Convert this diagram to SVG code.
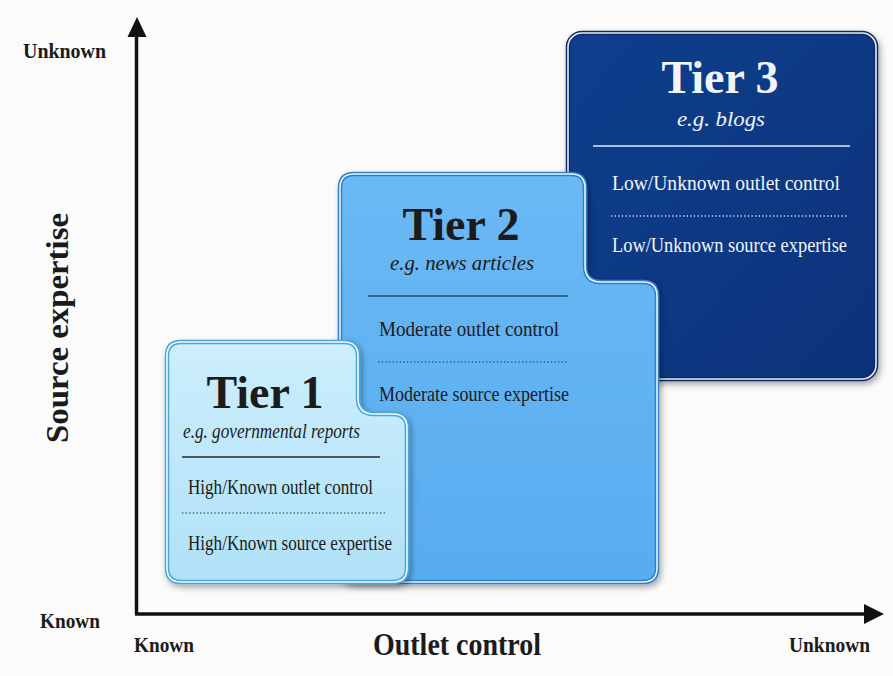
<svg xmlns="http://www.w3.org/2000/svg" width="893" height="676" viewBox="0 0 893 676">
<defs>
<style>
text{font-family:"Liberation Serif","Times New Roman",serif;fill:#1b1b1b}
.title{font-size:46px;font-weight:bold;text-anchor:middle}
.sub{font-size:22px;font-style:italic;text-anchor:middle}
.prop{font-size:22px}
.axis{font-size:22px;font-weight:bold}
.w{fill:#f1f5fb}
.dot{stroke-width:1.3;stroke-dasharray:1.4 2.2;fill:none}
</style>
<linearGradient id="g1" x1="0" y1="0" x2="0" y2="1"><stop offset="0" stop-color="#cdeefc"/><stop offset="1" stop-color="#b0e1f8"/></linearGradient>
<linearGradient id="g2" x1="0" y1="0" x2="0" y2="1"><stop offset="0" stop-color="#6bb9f5"/><stop offset="1" stop-color="#58acef"/></linearGradient>
<linearGradient id="g3" x1="0" y1="0" x2="1" y2="1"><stop offset="0" stop-color="#0d3f8d"/><stop offset="1" stop-color="#07327a"/></linearGradient>
<filter id="sh" x="-10%" y="-10%" width="125%" height="125%"><feDropShadow dx="2" dy="3" stdDeviation="3" flood-color="#000" flood-opacity="0.35"/></filter>
</defs>
<rect width="893" height="676" fill="#fbfbfb"/>

<g id="connectors">
<line x1="136.5" y1="614" x2="136.5" y2="34" stroke="#111" stroke-width="3.5"/>
<polygon points="137,17 127.5,37 146.5,37" fill="#111"/>
<line x1="135" y1="614" x2="866" y2="614" stroke="#111" stroke-width="3.5"/>
<polygon points="884,614 864,604 864,624" fill="#111"/>
</g>

<g id="tier3">
<rect x="568" y="33" width="308" height="346" rx="14" fill="url(#g3)" stroke="#0a2c66" stroke-width="4.5" filter="url(#sh)"/>
<rect x="568" y="33" width="308" height="346" rx="14" fill="none" stroke="#e8eef8" stroke-width="1.6"/>
<text class="title w" x="720" y="93">Tier 3</text>
<text class="sub w" x="721" y="126" textLength="88" lengthAdjust="spacingAndGlyphs">e.g. blogs</text>
<line x1="593" y1="146" x2="850" y2="146" stroke="#dfe8f5" stroke-width="1.5"/>
<text class="prop w" x="612" y="190" textLength="228" lengthAdjust="spacingAndGlyphs">Low/Unknown outlet control</text>
<line class="dot" x1="611" y1="216" x2="847" y2="216" stroke="#c9d7ee"/>
<text class="prop w" x="612" y="252" textLength="235" lengthAdjust="spacingAndGlyphs">Low/Unknown source expertise</text>
</g>

<g id="tier2">
<path d="M340,188 Q340,174 354,174 H571 Q585,174 585,188 V266 Q585,282 601,282 H643 Q657,282 657,296 V568 Q657,582 643,582 H354 Q340,582 340,568 Z" fill="url(#g2)" stroke="#2f7fc8" stroke-width="4.5" filter="url(#sh)"/>
<path d="M340,188 Q340,174 354,174 H571 Q585,174 585,188 V266 Q585,282 601,282 H643 Q657,282 657,296 V568 Q657,582 643,582 H354 Q340,582 340,568 Z" fill="none" stroke="#eaf5ff" stroke-width="1.6"/>
<text class="title" x="461" y="240">Tier 2</text>
<text class="sub" x="462" y="270" textLength="144" lengthAdjust="spacingAndGlyphs">e.g. news articles</text>
<line x1="368" y1="296" x2="568" y2="296" stroke="#27476a" stroke-width="1.5"/>
<text class="prop" x="379" y="336" textLength="180" lengthAdjust="spacingAndGlyphs">Moderate outlet control</text>
<line class="dot" x1="378" y1="362" x2="568" y2="362" stroke="#2d5f8f"/>
<text class="prop" x="379" y="401" textLength="190" lengthAdjust="spacingAndGlyphs">Moderate source expertise</text>
</g>

<g id="tier1">
<path d="M167,356 Q167,342 181,342 H344 Q358,342 358,356 V398 Q358,414 374,414 H393 Q407,414 407,428 V568 Q407,582 393,582 H181 Q167,582 167,568 Z" fill="url(#g1)" stroke="#4aa6dc" stroke-width="4.5" filter="url(#sh)"/>
<path d="M167,356 Q167,342 181,342 H344 Q358,342 358,356 V398 Q358,414 374,414 H393 Q407,414 407,428 V568 Q407,582 393,582 H181 Q167,582 167,568 Z" fill="none" stroke="#f4fbff" stroke-width="1.6"/>
<text class="title" x="265" y="408">Tier 1</text>
<text class="sub" x="271.5" y="438" style="font-size:20px" textLength="177" lengthAdjust="spacingAndGlyphs">e.g. governmental reports</text>
<line x1="182" y1="457" x2="380" y2="457" stroke="#2a2a2a" stroke-width="1.5"/>
<text class="prop" x="188" y="494" textLength="185" lengthAdjust="spacingAndGlyphs">High/Known outlet control</text>
<line class="dot" x1="182" y1="513" x2="386" y2="513" stroke="#4a6a88"/>
<text class="prop" x="188" y="550" textLength="204" lengthAdjust="spacingAndGlyphs">High/Known source expertise</text>
</g>

<g id="labels">
<text class="axis" x="23" y="58" textLength="83" lengthAdjust="spacingAndGlyphs">Unknown</text>
<text class="axis" x="40" y="628" textLength="60" lengthAdjust="spacingAndGlyphs">Known</text>
<text class="axis" x="134" y="652" textLength="60" lengthAdjust="spacingAndGlyphs">Known</text>
<text class="axis" x="789" y="652" textLength="81" lengthAdjust="spacingAndGlyphs">Unknown</text>
<text x="373" y="655" style="font-size:31px;font-weight:bold" textLength="168" lengthAdjust="spacingAndGlyphs">Outlet control</text>
<text transform="translate(68,443) rotate(-90)" style="font-size:32px;font-weight:bold" textLength="230" lengthAdjust="spacingAndGlyphs">Source expertise</text>
</g>
</svg>
